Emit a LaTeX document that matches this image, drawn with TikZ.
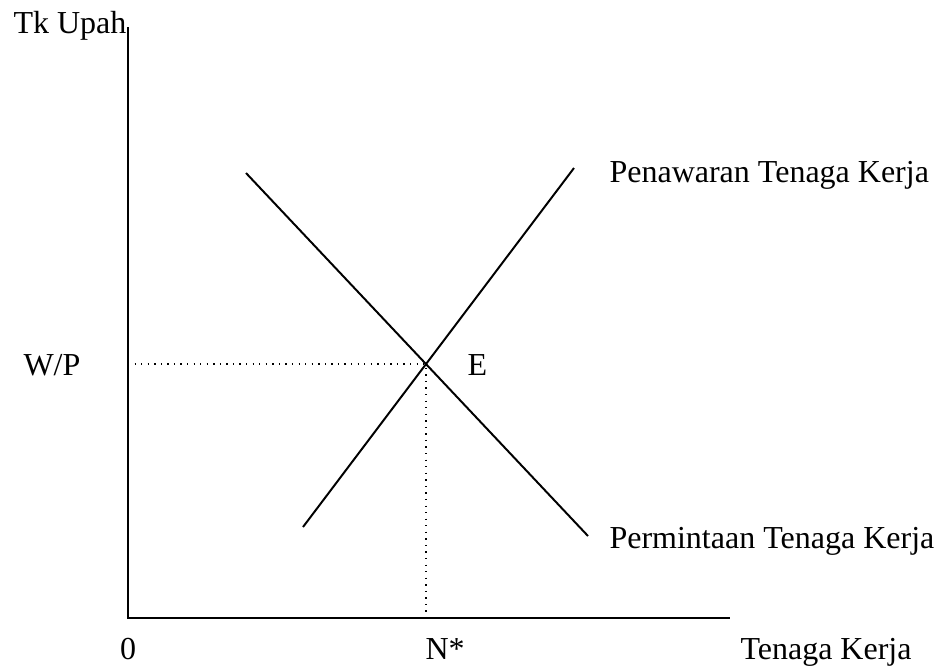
\documentclass[tikz,border=0pt]{standalone}
\usepackage{fontspec}
\setmainfont{Liberation Serif}
\usetikzlibrary{positioning, calc}
\tikzset{
  axisline/.style={draw=black, line width=0.8pt},
  curve/.style={draw=black, line width=0.75pt},
  guide/.style={draw=black, line width=0.5pt, dotted},
  label/.style={font=\fontsize{12.2}{14}\selectfont, text=black, inner sep=0pt, anchor=base west},
}
\begin{document}
\begin{tikzpicture}[x=0.0134cm, y=-0.0134cm]
  \useasboundingbox (0,0) rectangle (941,669);

  % Axes
  \coordinate (origin) at (128,618);
  \coordinate (ytop) at (128,27);
  \coordinate (xend) at (730,618);
  \draw[axisline] (ytop) -- (origin) -- (xend);

  % Demand and supply
  \coordinate (d1) at (246,173);
  \coordinate (d2) at (588,536);
  \coordinate (s1) at (303,527);
  \coordinate (s2) at (574,168);
  \draw[curve] (d1) -- (d2);
  \draw[curve] (s1) -- (s2);

  % Equilibrium
  \coordinate (eq) at (intersection of d1--d2 and s1--s2);
  \draw[guide] (eq -| origin) -- (eq) -- (eq |- origin);

  % Labels
  \node[label] (yname) at (13,33) {Tk Upah};
  \node[label] (wage) at (23,375) {W/P};
  \node[label] (elabel) at (467,375) {E};
  \node[label] (supply) at (609,182) {Penawaran Tenaga Kerja};
  \node[label] (demand) at (609,548) {Permintaan Tenaga Kerja};
  \node[label, anchor=base] (zero) at (128,659) {0};
  \node[label] (nstar) at (425,659) {N*};
  \node[label] (xname) at (740,659) {Tenaga Kerja};

\end{tikzpicture}
\end{document}
